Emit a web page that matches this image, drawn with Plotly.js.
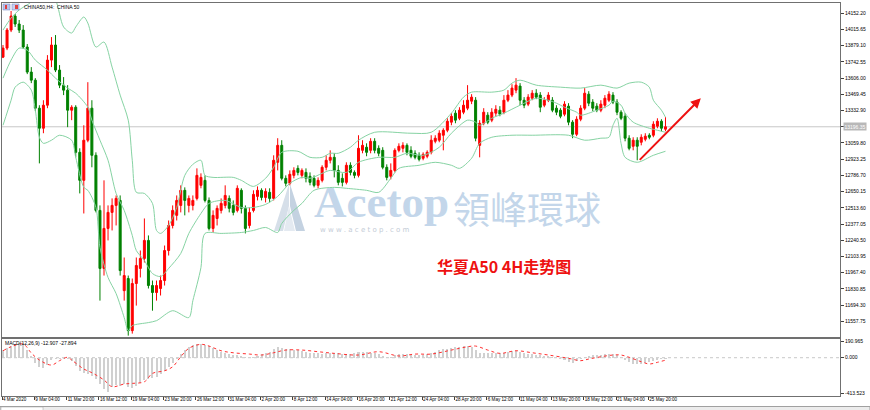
<!DOCTYPE html>
<html><head><meta charset="utf-8">
<script src="https://cdn.plot.ly/plotly-3.0.1.min.js"></script>
<style>html,body{margin:0;padding:0;background:#fff;}#chart{width:870px;height:410px;}</style>
</head><body><div id="chart"></div>
<script>
// ---- DATA (H4 candles, each entry aggregates two H4 bars) ----
const openP = [13783,13859,14011,14129,14062,14011,13868,13657,13589,13353,
13184,13378,13758,13885,13674,13547,13505,13336,13361,12981,
12745,13083,13353,12956,12492,12003,12340,12475,12534,12576,
11816,11918,11479,11876,12003,12087,12239,11859,11800,11834,
11901,12154,12365,12450,12534,12661,12534,12534,12593,12703,
12745,12576,12340,12424,12492,12534,12593,12534,12492,12661,
12509,12365,12492,12610,12661,12601,12644,12593,12897,13040,
12762,12720,12787,12846,12787,12812,12779,12762,12703,12745,
12855,12914,12939,12829,12762,12728,12872,12812,12787,12998,
13024,12998,13074,13015,12998,12855,12779,12829,12998,13015,
13040,12998,12973,12956,12931,12948,12981,13074,13083,13125,
13167,13235,13311,13268,13319,13353,13412,13420,13040,13226,
13294,13252,13311,13336,13319,13420,13463,13505,13539,13420,
13387,13437,13479,13463,13378,13420,13420,13353,13336,13302,
13370,13235,13133,13260,13353,13471,13404,13370,13336,13378,
13420,13463,13404,13319,13285,13100,13032,13083,13066,13091,
13125,13125,13201,13243,13176];
const highP = [13885,14028,14172,14146,14096,14053,13893,13699,13606,13378,
13420,13800,13952,13969,13716,13615,13547,13378,13378,13015,
13209,13572,13420,12981,12534,12745,12534,12593,12618,12618,
12095,11943,11918,12095,12154,12424,12281,11901,11901,11943,
12196,12407,12534,12618,12703,12686,12618,12618,12846,12804,
12787,12601,12492,12534,12593,12703,12618,12576,12703,12678,
12534,12517,12661,12694,12678,12678,12678,12956,13100,13083,
12787,12829,12855,12872,12846,12846,12812,12787,12770,12872,
12956,12998,12973,12872,12804,12897,12897,12829,13125,13083,
13057,13100,13100,13040,13024,12880,12888,13015,13057,13066,
13057,13032,12998,12981,12981,12998,13125,13125,13167,13184,
13268,13311,13336,13361,13420,13547,13471,13446,13252,13353,
13319,13353,13378,13370,13463,13505,13555,13606,13564,13446,
13471,13505,13513,13488,13446,13488,13446,13378,13353,13412,
13395,13252,13285,13378,13522,13496,13429,13395,13420,13463,
13496,13488,13429,13336,13311,13125,13108,13108,13133,13142,
13142,13243,13268,13260,13277];
const lowP = [13775,13842,13994,14037,13986,13851,13640,13564,13328,12888,
13142,13353,13699,13657,13522,13463,13193,13252,12939,12635,
12466,13066,12855,12475,11732,11943,12239,12323,12365,11943,
11732,11437,11454,11690,11927,12053,11834,11647,11732,11775,
11859,12112,12340,12407,12475,12450,12475,12492,12576,12678,
12559,12323,12306,12365,12466,12509,12475,12450,12475,12466,
12298,12340,12475,12576,12576,12559,12559,12576,12829,12745,
12694,12703,12762,12787,12762,12728,12703,12686,12678,12728,
12829,12888,12770,12703,12694,12711,12787,12762,12770,12973,
12948,12973,12973,12948,12838,12745,12753,12812,12981,12981,
12956,12931,12922,12905,12914,12931,12964,13057,13066,12998,
13150,13209,13226,13252,13302,13336,13387,13074,12939,13209,
13218,13235,13285,13285,13302,13404,13446,13479,13378,13353,
13370,13420,13429,13319,13361,13404,13319,13294,13268,13285,
13209,13100,13117,13243,13336,13370,13328,13319,13319,13353,
13404,13387,13294,13252,13074,12998,12998,12914,13040,13074,
13091,13108,13184,13159,13159];
const closeP = [13859,14011,14129,14062,14011,13868,13657,13589,13353,13184,
13378,13758,13885,13674,13547,13505,13336,13361,12981,12745,
13083,13353,12956,12492,12003,12340,12475,12534,12593,11985,
11943,11479,11876,12028,12087,12239,11859,11800,11859,11901,
12154,12365,12492,12576,12661,12576,12593,12576,12787,12770,
12576,12340,12450,12509,12551,12618,12509,12475,12678,12509,
12340,12475,12627,12661,12601,12652,12593,12914,13040,12762,
12720,12796,12829,12812,12829,12762,12728,12703,12745,12855,
12914,12939,12829,12728,12728,12872,12812,12787,13015,13040,
12981,13074,12998,12973,12855,12770,12829,12998,13032,13040,
12981,12948,12939,12922,12964,12981,13083,13100,13142,13167,
13243,13285,13252,13336,13378,13420,13446,13100,13226,13319,
13235,13319,13344,13302,13420,13463,13522,13547,13420,13378,
13446,13479,13446,13361,13420,13463,13336,13319,13285,13387,
13235,13133,13260,13353,13479,13395,13353,13336,13387,13437,
13471,13404,13319,13268,13100,13015,13083,13032,13108,13117,
13108,13218,13243,13184,13196.35];

// Bollinger bands (20,2) read at candle indices
const upIdx = [0,2,4,7,9,11,13,15,17,18,20,21,23,25,27,29,31,32,33,35,37,38,39,41,43,45,47,49,50,52,57,59,62,65,67,69,73,76,79,81,83,86,88,92,101,106,111,114,116,121,124,126,128,132,138,143,148,152,155,158,160,161,163,164];
const upVal = [14011,14112,14180,14248,14332,14332,14264,14037,13986,14037,14121,14070,13868,13910,13699,13463,13252,12914,12644,12635,12551,12323,12298,12365,12517,12787,12880,12914,12787,12770,12770,12745,12694,12762,12855,12981,12990,12939,12939,12973,12973,13024,13083,13150,13142,13150,13311,13446,13488,13488,13505,13564,13589,13547,13530,13522,13547,13522,13564,13572,13530,13420,13336,13277];
const midIdx = [0,2,4,6,8,11,13,16,18,21,22,24,26,28,30,32,33,35,37,39,41,44,46,49,51,55,59,62,65,68,71,74,76,79,81,85,88,93,97,100,104,108,111,115,117,118,121,124,128,132,135,137,139,142,143,147,150,151,153,154,156,160,162,164];
const midVal = [13606,13758,13859,13842,13758,13674,13606,13522,13479,13361,13252,13083,12914,12635,12492,12281,12154,12070,11960,11935,12003,12129,12298,12466,12551,12576,12517,12517,12542,12610,12720,12770,12762,12804,12829,12812,12897,12939,12939,12973,12956,13024,13142,13252,13235,13209,13268,13311,13378,13437,13420,13395,13361,13319,13294,13336,13378,13412,13378,13311,13235,13184,13167,13150];
const lowIdx = [0,2,3,5,7,8,9,10,12,14,17,18,20,21,23,24,26,28,30,31,32,36,38,42,46,47,49,50,54,59,62,65,68,69,72,74,77,82,85,90,93,96,98,103,107,111,113,116,118,121,126,131,140,144,148,150,151,152,153,154,157,161,164];
const lowVal = [13209,13420,13530,13572,13505,13336,13108,13057,13083,13125,13083,12939,12686,12661,12517,12180,11927,11791,11589,11479,11521,11547,11563,11647,11589,11732,12011,12298,12298,12306,12323,12348,12306,12382,12492,12551,12661,12686,12678,12661,12644,12762,12846,12872,12897,12872,12846,12931,13057,13108,13125,13125,13125,13083,13100,13108,13209,13268,13057,12939,12897,12956,12990];

// MACD (12,26,9): histogram per candle, signal line read at candle indices
const macdHist = [88,110,140,160,170,165,90,20,-60,-110,
-120,-80,-30,-15,-10,-20,-15,-40,-90,-150,
-170,-190,-210,-250,-300,-360,-395,-340,-310,-330,
-300,-340,-350,-320,-290,-260,-250,-230,-220,-190,
-150,-110,-60,-20,40,90,120,145,155,160,
150,130,110,90,70,55,40,35,30,25,
10,5,10,20,40,60,70,100,120,115,
100,95,90,85,80,70,60,55,50,45,
55,60,60,50,45,40,40,50,65,70,
65,60,55,45,25,5,10,30,40,45,
40,35,30,30,35,40,55,70,85,95,
105,115,120,125,130,130,120,90,60,60,
55,60,60,55,60,70,80,75,65,55,
45,40,35,30,25,20,10,-5,-20,-30,
-45,-55,-35,-10,10,25,30,30,35,40,
45,40,30,10,-25,-50,-70,-76,-70,-60,
-50,-40,-30,-20,-12.907];
const sigIdx = [0,2,5,7,9,12,14,16,17,20,22,25,27,30,32,35,37,40,42,44,46,49,51,54,57,61,64,67,70,74,78,82,88,93,98,102,106,111,115,117,120,123,127,131,135,140,143,145,148,151,153,155,158,160,162,164];
const sigVal = [80,126,157,54,-26,-84,-34,5,-26,-130,-172,-256,-333,-302,-295,-276,-180,-150,-104,11,108,154,134,80,57,42,31,57,88,88,69,50,31,69,20,42,42,88,126,134,88,50,80,57,31,-7,-34,-15,11,31,31,5,-46,-72,-53,-27.894];

// axis labels
const dateTickBars = [0,16,32,48,64,80,96,112,128,144,160,176,192,208,224,240,256,272,288,304,320];
const dateTickText = ["4 Mar 2020","9 Mar 04:00","11 Mar 20:00","16 Mar 12:00","19 Mar 04:00","23 Mar 20:00","26 Mar 12:00","31 Mar 04:00","2 Apr 20:00","8 Apr 12:00","14 Apr 04:00","16 Apr 20:00","21 Apr 12:00","24 Apr 04:00","28 Apr 20:00","6 May 12:00","11 May 04:00","13 May 20:00","18 May 12:00","21 May 04:00","25 May 20:00"];
const lastPrice = 13196.35;
const macdTickVals = [190.965, 0, -413.523];
const macdTickText = ["190.965","0.000","-413.523"];
const arrowFrom = {bar: 315, price: 12905};
const arrowTo = {bar: 346, price: 13437};

// ---- BUILD ----
const barX = i => 2*i + 0.5;
const xs = openP.map((_, i) => barX(i));
const F = "Liberation Sans, Arial, sans-serif";
const bandColor = '#86d3a3';

const traces = [
  {type:'scatter', mode:'lines', x: upIdx.map(barX), y: upVal, line:{color:bandColor, width:1, shape:'spline', smoothing:0.8}, hoverinfo:'skip', xaxis:'x', yaxis:'y'},
  {type:'scatter', mode:'lines', x: midIdx.map(barX), y: midVal, line:{color:bandColor, width:1, shape:'spline', smoothing:0.8}, hoverinfo:'skip', xaxis:'x', yaxis:'y'},
  {type:'scatter', mode:'lines', x: lowIdx.map(barX), y: lowVal, line:{color:bandColor, width:1, shape:'spline', smoothing:0.8}, hoverinfo:'skip', xaxis:'x', yaxis:'y'},
  {type:'candlestick', x: xs, open: openP, high: highP, low: lowP, close: closeP,
   increasing:{line:{color:'#ff0000', width:1}, fillcolor:'#ff0000'},
   decreasing:{line:{color:'#008000', width:1}, fillcolor:'#008000'},
   whiskerwidth:0, xaxis:'x', yaxis:'y', hoverinfo:'skip'},
  {type:'bar', x: xs, y: macdHist, width: 1.0, marker:{color:'#d0d0d0', line:{width:0}}, xaxis:'x2', yaxis:'y2', hoverinfo:'skip'},
  {type:'scatter', mode:'lines', x: sigIdx.map(barX), y: sigVal, line:{color:'#ff3030', width:1, dash:'dot', shape:'spline'}, xaxis:'x2', yaxis:'y2', hoverinfo:'skip'}
];

// pixel helpers for decorations (plot area: x 2..840, y 3..396)
const px = x => (x - 2) / 838;
const py = y => (396 - y) / 393;
const tri = pts => 'M ' + pts.map(p => px(p[0]) + ' ' + py(p[1])).join(' L ') + ' Z';

const shapes = [
  {type:'line', xref:'paper', yref:'y', x0:0, x1:1, y0:lastPrice, y1:lastPrice, line:{color:'#c8c8c8', width:1}, layer:'below'},
  {type:'line', xref:'paper', yref:'y2', x0:0, x1:1, y0:0, y1:0, line:{color:'#c8c8c8', width:1, dash:'dot'}, layer:'below'},
  // watermark logo
  {type:'path', xref:'paper', yref:'paper', path: tri([[289,184],[274,231],[283,231],[289,206]]), fillcolor:'#d6dfe9', line:{width:0}, layer:'below'},
  {type:'path', xref:'paper', yref:'paper', path: tri([[290,184],[305,231],[296,231],[290,206]]), fillcolor:'#c4d2e1', line:{width:0}, layer:'below'},
  {type:'path', xref:'paper', yref:'paper', path: tri([[289,206],[284,231],[295,231]]), fillcolor:'#e4eaf1', line:{width:0}, layer:'below'},
  // title icons
  {type:'rect', xref:'paper', yref:'paper', x0:px(3), x1:px(10), y0:py(10), y1:py(4), fillcolor:'#b8c4ec', line:{color:'#7080c0', width:0.5}},
  {type:'rect', xref:'paper', yref:'paper', x0:px(5), x1:px(7), y0:py(9), y1:py(5), fillcolor:'#e04040', line:{width:0}},
  {type:'rect', xref:'paper', yref:'paper', x0:px(12), x1:px(19), y0:py(10), y1:py(4), fillcolor:'#c8d0f0', line:{color:'#7080c0', width:0.5}},
  {type:'rect', xref:'paper', yref:'paper', x0:px(15), x1:px(18), y0:py(9), y1:py(5), fillcolor:'#e04040', line:{width:0}},
  // bottom tab strip
  {type:'rect', xref:'paper', yref:'paper', x0:px(0), x1:px(870), y0:py(411), y1:py(406.5), fillcolor:'#ececec', line:{color:'#a0a0a0', width:1}},
  {type:'rect', xref:'paper', yref:'paper', x0:px(1), x1:px(43), y0:py(411), y1:py(407), fillcolor:'#ffffff', line:{color:'#a0a0a0', width:0.5}}
];

const annotations = [
  {xref:'paper', yref:'paper', x:px(22), y:py(7), xanchor:'left', yanchor:'middle', text:'CHINA50,H4:  CHINA 50', showarrow:false, font:{family:F, size:5, color:'#000'}},
  {xref:'paper', yref:'paper', x:px(3), y:py(343), xanchor:'left', yanchor:'middle', text:'MACD(12,26,9) -12.907 -27.894', showarrow:false, font:{family:F, size:5, color:'#000'}},
  {xref:'paper', yref:'y', x:1, y:lastPrice, xanchor:'left', yanchor:'middle', xshift:3, text:'13196.35', showarrow:false, bgcolor:'#b8b8b8', borderpad:0.5, font:{family:F, size:5, color:'#ffffff'}},
  {xref:'paper', yref:'paper', x:px(381), y:py(202), xanchor:'center', yanchor:'middle', text:'<b>Acetop</b>', showarrow:false, font:{family:'Liberation Serif, DejaVu Serif, serif', size:45, color:'#c3d6ea'}},
  {xref:'paper', yref:'paper', x:px(527), y:py(208), xanchor:'center', yanchor:'middle', text:'領峰環球', showarrow:false, font:{family:'Noto Sans CJK TC, Noto Sans CJK SC, sans-serif', size:37, color:'#c3d6ea'}},
  {xref:'paper', yref:'paper', x:px(365), y:py(230), xanchor:'center', yanchor:'middle', text:'w w w . a c e t o p . c o m', showarrow:false, font:{family:'DejaVu Sans, sans-serif', size:7, color:'#c4ccd6'}},
  {xref:'paper', yref:'paper', x:px(504), y:py(266), xanchor:'center', yanchor:'middle', text:'<b>华夏A50 4H走势图</b>', showarrow:false, font:{family:'Noto Sans CJK SC, sans-serif', size:16, color:'#ee1111'}},
  {xref:'x', yref:'y', axref:'x', ayref:'y', x:arrowTo.bar, y:arrowTo.price, ax:arrowFrom.bar, ay:arrowFrom.price, text:'', showarrow:true, arrowhead:2, arrowsize:1, arrowwidth:2, arrowcolor:'#ee1111'}
];

const axisCommon = {showgrid:false, zeroline:false, showline:true, linecolor:'#707070', linewidth:1, mirror:true};
const layout = {
  width:870, height:410, margin:{l:2, r:30, t:3, b:14}, paper_bgcolor:'#fff', plot_bgcolor:'#fff',
  showlegend:false, hovermode:false,
  xaxis: Object.assign({}, axisCommon, {domain:[0,1], range:[0, 414.9], anchor:'y', showticklabels:false, ticks:'', rangeslider:{visible:false}, fixedrange:true}),
  yaxis: Object.assign({}, axisCommon, {domain:[0.150, 1], range:[11425, 14239], side:'right', anchor:'x', tick0:11557.75, dtick:136.55, tickformat:'.2f', ticks:'outside', ticklen:3, tickcolor:'#404040', tickfont:{family:F, size:5, color:'#000'}, automargin:false, fixedrange:true}),
  xaxis2: Object.assign({}, axisCommon, {domain:[0,1], range:[0, 414.9], anchor:'y2', tickmode:'array', tickvals:dateTickBars, ticktext:dateTickText, tickangle:0, ticks:'outside', ticklen:3, tickcolor:'#404040', ticklabelposition:'outside right', ticklabelstandoff:-2, tickfont:{family:F, size:4.6, color:'#000'}, automargin:false, fixedrange:true}),
  yaxis2: Object.assign({}, axisCommon, {domain:[0, 0.145], range:[-440, 215], side:'right', anchor:'x2', tickmode:'array', tickvals:macdTickVals, ticktext:macdTickText, ticks:'outside', ticklen:3, tickcolor:'#404040', tickfont:{family:F, size:5, color:'#000'}, automargin:false, fixedrange:true}),
  shapes: shapes, annotations: annotations, bargap:0
};
Plotly.newPlot('chart', traces, layout, {staticPlot:true, displayModeBar:false});
</script></body></html>
